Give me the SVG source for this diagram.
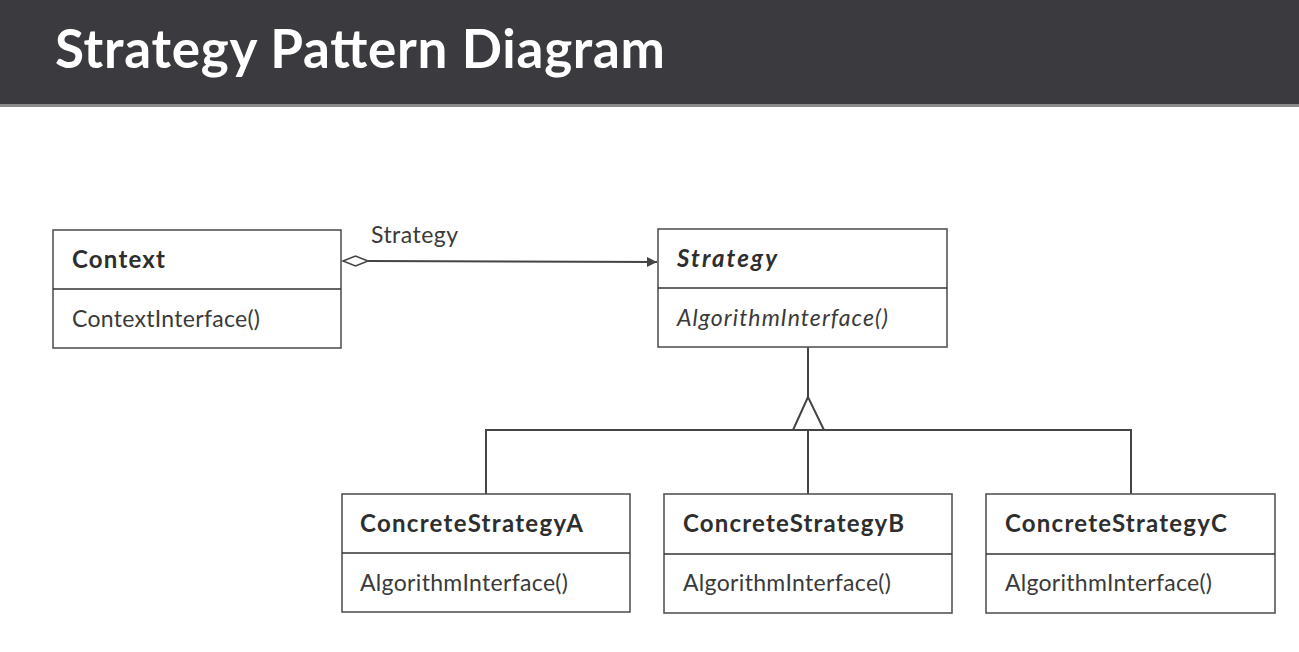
<svg xmlns="http://www.w3.org/2000/svg" width="1299" height="652" viewBox="0 0 1299 652">
<style>
.box{fill:#fff;stroke:#555;stroke-width:1.6}
.div{stroke:#333;stroke-width:1.6}
.name{font-family:Lato,"Open Sans",sans-serif;font-size:24px;font-weight:bold;fill:#2e2e2e}
.op{font-family:Lato,"Open Sans",sans-serif;font-size:23px;fill:#3a3a3a}
.it{font-style:italic}
.ln{fill:none;stroke:#444;stroke-width:2}
</style>
<defs>
<marker id="arr" viewBox="0 0 10 10" refX="10" refY="5" markerWidth="10" markerHeight="10" markerUnits="userSpaceOnUse" orient="auto">
<path d="M0,0 L10,5 L0,10 z" fill="#444"/>
</marker>
</defs>
<rect x="0" y="0" width="1299" height="104" fill="#3b3b3f"/>
<rect x="0" y="104" width="1299" height="3" fill="#8a8a8a"/>
<text x="55" y="68" font-family="Lato,'Open Sans',sans-serif" font-size="53" font-weight="bold" fill="#fff" textLength="610" lengthAdjust="spacing">Strategy Pattern Diagram</text>
<g id="connectors">
<path class="ln" d="M368,261 L657,262" marker-end="url(#arr)"/>
<path d="M343,261 L355.5,256 L368,261 L355.5,266 z" fill="#fff" stroke="#444" stroke-width="1.6"/>
<text x="371" y="243" class="op" textLength="87" lengthAdjust="spacing">Strategy</text>
<path class="ln" d="M808,347 L808,397"/>
<path d="M808,397 L793,430 L824,430 z" fill="#fff" stroke="#444" stroke-width="2"/>
<path class="ln" d="M486,494 L486,430 L1131,430 L1131,494"/>
<path class="ln" d="M808,430 L808,494"/>
</g>
<g id="context">
<rect class="box" x="53" y="230" width="288" height="118"/>
<line class="div" x1="53" y1="289" x2="341" y2="289"/>
<text class="name" x="72" y="268" textLength="93" lengthAdjust="spacing">Context</text>
<text class="op" x="72" y="327" textLength="188" lengthAdjust="spacing">ContextInterface()</text>
</g>
<g id="strategy">
<rect class="box" x="658" y="229" width="289" height="118"/>
<line class="div" x1="658" y1="288" x2="947" y2="288"/>
<text class="name it" x="677" y="267" textLength="100" lengthAdjust="spacing">Strategy</text>
<text class="op it" x="677" y="326" textLength="211" lengthAdjust="spacing">AlgorithmInterface()</text>
</g>
<g id="concreteA">
<rect class="box" x="342" y="494" width="288" height="118"/>
<line class="div" x1="342" y1="553" x2="630" y2="553"/>
<text class="name" x="360" y="532" textLength="223" lengthAdjust="spacing">ConcreteStrategyA</text>
<text class="op" x="360" y="591" textLength="208" lengthAdjust="spacing">AlgorithmInterface()</text>
</g>
<g id="concreteB">
<rect class="box" x="664" y="494" width="288" height="119"/>
<line class="div" x1="664" y1="554" x2="952" y2="554"/>
<text class="name" x="683" y="532" textLength="221" lengthAdjust="spacing">ConcreteStrategyB</text>
<text class="op" x="683" y="591" textLength="208" lengthAdjust="spacing">AlgorithmInterface()</text>
</g>
<g id="concreteC">
<rect class="box" x="986" y="494" width="289" height="119"/>
<line class="div" x1="986" y1="554" x2="1275" y2="554"/>
<text class="name" x="1005" y="532" textLength="222" lengthAdjust="spacing">ConcreteStrategyC</text>
<text class="op" x="1005" y="591" textLength="207" lengthAdjust="spacing">AlgorithmInterface()</text>
</g>
</svg>
